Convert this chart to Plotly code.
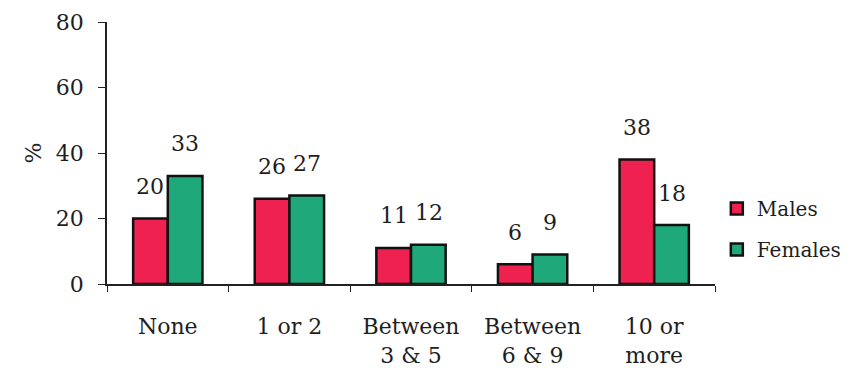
import plotly.graph_objects as go

categories = ["None", "1 or 2", "Between<br>3 & 5", "Between<br>6 & 9", "10 or<br>more"]
males = [20, 26, 11, 6, 38]
females = [33, 27, 12, 9, 18]
y_ticks = [0, 20, 40, 60, 80]

RED = "#ef2150"
GREEN = "#1fa97a"
FONT = dict(family="DejaVu Serif", size=22, color="#1e1e1e")
LEGEND_FONT = dict(family="DejaVu Serif", size=20, color="#1e1e1e")

fig = go.Figure()
fig.add_trace(go.Bar(name="Males", x=categories, y=males, legendgroup="m",
                     marker=dict(color=RED, line=dict(color="#111", width=2.5))))
fig.add_trace(go.Bar(name="Females", x=categories, y=females, legendgroup="f",
                     marker=dict(color=GREEN, line=dict(color="#111", width=2.5))))

# value labels above each bar
half = 17.5
for cat, m, f in zip(categories, males, females):
    for val, dx in ((m, -half), (f, half)):
        fig.add_annotation(x=cat, y=val, text=str(val), showarrow=False,
                           xshift=dx, yshift=32, yanchor="middle",
                           font=FONT)

fig.update_layout(
    width=855, height=376,
    margin=dict(l=107, r=140, t=22, b=92, autoexpand=False),
    paper_bgcolor="white", plot_bgcolor="white",
    barmode="group", bargap=0.43, bargroupgap=0,
    font=FONT,
    showlegend=True,
    legend=dict(x=1.003, y=0.21, xanchor="left", yanchor="middle",
                font=LEGEND_FONT, tracegroupgap=12, itemwidth=30,
                bgcolor="rgba(0,0,0,0)"),
    xaxis=dict(showline=True, linecolor="#222", linewidth=1.5,
               ticks="outside", tickson="boundaries", ticklen=6,
               tickcolor="#222", ticklabelstandoff=22, automargin=False,
               showgrid=False, tickfont=FONT),
    yaxis=dict(range=[0, 80], tickvals=y_ticks, showline=True,
               linecolor="#222", linewidth=1.5, ticks="outside", ticklen=7,
               tickcolor="#222", showgrid=False, zeroline=False,
               ticklabelstandoff=10, tickfont=FONT, automargin=False,
               title=dict(text="%", font=FONT, standoff=8)),
)

fig.write_html("out.html")
